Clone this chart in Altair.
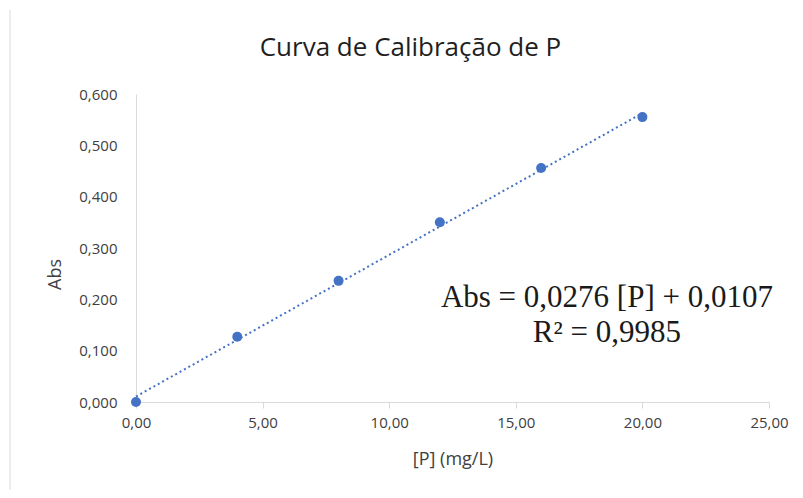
import altair as alt
import pandas as pd

conc = [0, 4, 8, 12, 16, 20]
absv = [0.000, 0.127, 0.236, 0.350, 0.456, 0.555]
slope = 0.0276
intercept = 0.0107
r2 = 0.9985
trend_x = [0, 20]

pts = pd.DataFrame({"P": conc, "Abs": absv})
trend = pd.DataFrame({"P": trend_x, "Abs": [slope * v + intercept for v in trend_x]})
ann = pd.DataFrame({
    "P": [18.6],
    "Abs": [0.203],
    "txt": ["Abs = 0,0276 [P] + 0,0107\nR\u00b2 = 0,9985"],
})

blue = "#4472C4"
xs = alt.Scale(domain=[0, 25], nice=False)
ys = alt.Scale(domain=[0, 0.6], nice=False)

xaxis = alt.Axis(
    title="[P] (mg/L)", values=[0, 5, 10, 15, 20, 25],
    labelExpr="replace(format(datum.value, '.2f'), '.', ',')",
    grid=False, domainColor="#d9d9d9", tickColor="#d9d9d9", tickSize=6,
    labelPadding=7, titlePadding=20, labelFlush=False,
)
yaxis = alt.Axis(
    title="Abs", values=[0, 0.1, 0.2, 0.3, 0.4, 0.5, 0.6],
    labelExpr="replace(format(datum.value, '.3f'), '.', ',')",
    grid=False, domainColor="#d9d9d9", ticks=False, labelPadding=19,
    labelFlush=False,
    titleX=-81, titleY=180, titleBaseline="middle",
)

line = alt.Chart(trend).mark_line(color=blue, strokeDash=[2, 3], strokeWidth=2, clip=False).encode(
    x=alt.X("P:Q", scale=xs, axis=xaxis),
    y=alt.Y("Abs:Q", scale=ys, axis=yaxis),
)
points = alt.Chart(pts).mark_circle(color=blue, size=100, opacity=1, clip=False).encode(
    x=alt.X("P:Q", scale=xs),
    y=alt.Y("Abs:Q", scale=ys),
)
text = alt.Chart(ann).mark_text(
    font="Liberation Serif", fontSize=31, color="#1a1a1a", align="center",
    baseline="middle", lineBreak="\n", lineHeight=35,
).encode(
    x=alt.X("P:Q", scale=xs),
    y=alt.Y("Abs:Q", scale=ys),
    text="txt:N",
)
border = alt.Chart(pd.DataFrame({"a": [0]})).mark_rule(color="#e6e6e6", strokeWidth=1.5).encode(
    x=alt.value(-126), y=alt.value(-84), y2=alt.value(404),
)

chart = alt.layer(border, line, points, text).properties(
    width=633, height=308,
    autosize=alt.AutoSizeParams(type="none"),
    padding={"left": 128, "top": 86, "right": 26, "bottom": 88},
    title=alt.TitleParams(
        "Curva de Calibra\u00e7\u00e3o de P", font="Open Sans", fontSize=26,
        fontWeight="normal", color="#1f1f1f", anchor="middle", frame="group",
        dx=-42, offset=-52,
    ),
).configure_axis(
    labelFont="Open Sans", labelFontSize=15, labelColor="#404040",
    titleFont="Open Sans", titleFontSize=18, titleColor="#404040", titleFontWeight="normal",
).configure_view(stroke=None)

chart.save("out.html", embed_options={"renderer": "svg", "actions": False})
